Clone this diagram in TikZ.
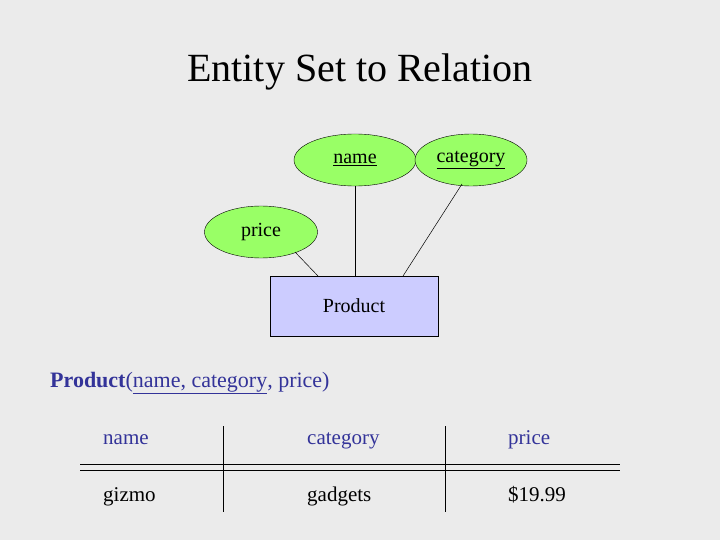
\documentclass[tikz,border=0pt]{standalone}
\usepackage{fontspec}
\setmainfont{Liberation Serif}
\usetikzlibrary{shapes.geometric}
\definecolor{bg}{HTML}{EBEBEB}
\definecolor{attr}{HTML}{99FF66}
\definecolor{ent}{HTML}{CCCCFF}
\definecolor{rel}{HTML}{333399}
\begin{document}
\begin{tikzpicture}[x=1pt,y=-1pt,
  attrib/.style={ellipse,draw,fill=attr,inner sep=0pt,font=\fontsize{20}{24}\selectfont},
  entity/.style={draw,fill=ent,minimum width=168pt,minimum height=60pt,font=\fontsize{20}{24}\selectfont},
  cell/.style={anchor=base west,inner sep=0pt,font=\fontsize{21}{24}\selectfont},
  conn/.style={draw,line width=0.5pt}]
\fill[bg] (0,0) rectangle (720,540);
\node (title) at (360,72) {\fontsize{40}{46}\selectfont Entity Set to Relation};
\node[attrib,minimum width=122pt,minimum height=52pt] (name) at (355,160) {\underline{name}};
\node[attrib,minimum width=112pt,minimum height=52pt] (cat) at (471,160) {\underline{category}};
\node[attrib,minimum width=113pt,minimum height=52pt] (price) at (261,232) {price};
\node[entity] (prod) at (354,306) {Product};
\coordinate (n1) at (355,186); \coordinate (n2) at (355,276);
\coordinate (c1) at (462,184); \coordinate (c2) at (403,276);
\coordinate (p1) at (295,252); \coordinate (p2) at (318,276);
\draw[conn] (n1) -- (n2); \draw[conn] (c1) -- (c2); \draw[conn] (p1) -- (p2);
\node[cell,text=rel,font=\fontsize{22}{24}\selectfont] (schema) at (50,387) {\textbf{Product}(\underline{name, category}, price)};
\node[cell,text=rel] (h1) at (103,444) {name};
\node[cell,text=rel] (h2) at (307,444) {category};
\node[cell,text=rel] (h3) at (508,444) {price};
\node[cell] (r1) at (103,501) {gizmo};
\node[cell] (r2) at (307,501) {gadgets};
\node[cell] (r3) at (508,501) {\$19.99};
\coordinate (la) at (80,464); \coordinate (lb) at (620,464);
\coordinate (lc) at (80,470); \coordinate (ld) at (620,470);
\coordinate (v1a) at (223,426); \coordinate (v1b) at (223,512);
\coordinate (v2a) at (445,426); \coordinate (v2b) at (445,512);
\draw[conn,line width=0.8pt] (la) -- (lb); \draw[conn,line width=0.8pt] (lc) -- (ld);
\draw[conn,line width=0.8pt] (v1a) -- (v1b); \draw[conn,line width=0.8pt] (v2a) -- (v2b);
\end{tikzpicture}
\end{document}
